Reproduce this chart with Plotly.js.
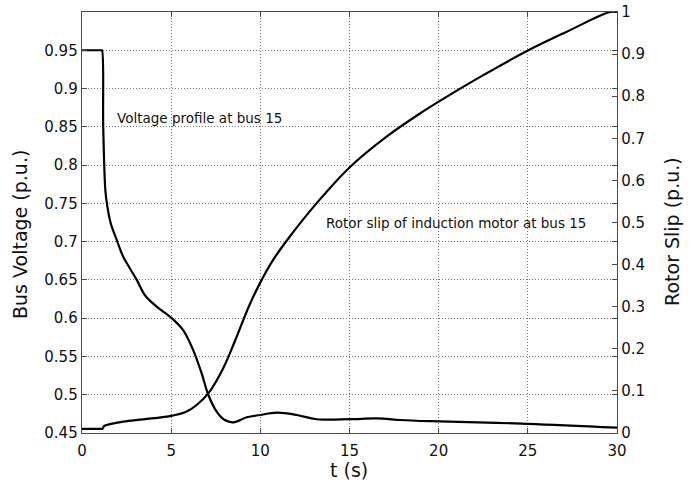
<!DOCTYPE html>
<html>
<head>
<meta charset="utf-8">
<script src="https://cdn.plot.ly/plotly-3.0.1.min.js"></script>
<style>html,body{margin:0;padding:0;background:#fff;}#chart{width:691px;height:492px;}</style>
</head>
<body>
<div id="chart"></div>
<script>
// Voltage profile at bus 15 (left axis)
const tVoltage = [0, 1.08, 1.12, 1.19, 1.31, 1.42, 1.61, 1.95, 2.32, 2.69, 3.07, 3.53, 4.19, 5.03, 5.68, 6.24, 6.71, 7.08, 7.55, 8.0, 8.48, 9.24, 9.98, 10.92, 12.04, 13.16, 15.03, 16.53, 17.83, 18.95, 20.07, 25.0, 30.0];
const voltage  = [0.95, 0.95, 0.95, 0.85, 0.767, 0.746, 0.724, 0.702, 0.680, 0.665, 0.650, 0.630, 0.615, 0.600, 0.584, 0.558, 0.528, 0.500, 0.478, 0.467, 0.464, 0.4705, 0.4735, 0.4765, 0.4735, 0.468, 0.468, 0.469, 0.467, 0.4657, 0.4652, 0.462, 0.457];

// Rotor slip of induction motor at bus 15 (right axis)
const tSlip = [0, 1.1, 1.15, 1.25, 1.57, 2.32, 3.44, 4.93, 5.87, 6.43, 7.08, 7.92, 8.6, 9.35, 9.98, 10.7, 11.57, 13.16, 15.03, 17.08, 18.95, 20.07, 22.5, 25.03, 27.18, 29.6, 30];
const slip  = [0.01, 0.01, 0.01, 0.017, 0.021, 0.027, 0.0325, 0.040, 0.051, 0.0665, 0.094, 0.154, 0.221, 0.300, 0.356, 0.410, 0.462, 0.546, 0.632, 0.704, 0.759, 0.789, 0.850, 0.909, 0.953, 1.0, 1.0];

// Tick labels
const xTicks = [0, 5, 10, 15, 20, 25, 30];
const vTicks = [0.45, 0.5, 0.55, 0.6, 0.65, 0.7, 0.75, 0.8, 0.85, 0.9, 0.95];
const vTickText = ["0.45", "0.5", "0.55", "0.6", "0.65", "0.7", "0.75", "0.8", "0.85", "0.9", "0.95"];
const sTicks = [0, 0.1, 0.2, 0.3, 0.4, 0.5, 0.6, 0.7, 0.8, 0.9, 1];
const sTickText = ["0", "0.1", "0.2", "0.3", "0.4", "0.5", "0.6", "0.7", "0.8", "0.9", "1"];

const FONT = "DejaVu Sans, Liberation Sans, Arial, sans-serif";
const AX = '#4a4a4a';

const traces = [
  {x: tVoltage, y: voltage, type: 'scatter', mode: 'lines', yaxis: 'y',
   line: {color: '#000', width: 2.2, shape: 'spline', smoothing: 1}, hoverinfo: 'skip', showlegend: false},
  {x: tSlip, y: slip, type: 'scatter', mode: 'lines', yaxis: 'y2',
   line: {color: '#000', width: 2.2, shape: 'spline', smoothing: 1}, hoverinfo: 'skip', showlegend: false}
];

const layout = {
  width: 691, height: 492,
  margin: {l: 82, r: 74, t: 12, b: 59, pad: 0},
  paper_bgcolor: '#fff', plot_bgcolor: '#fff',
  font: {family: FONT, size: 15, color: '#111'},
  showlegend: false,
  xaxis: {
    range: [0, 30], tickvals: xTicks, ticks: 'inside', ticklen: 5, tickcolor: AX,
    showline: true, linecolor: AX, linewidth: 1.3, mirror: 'ticks',
    showgrid: true, gridcolor: '#777', griddash: '1px,2px', gridwidth: 1,
    zeroline: false, ticklabelstandoff: 4, tickfont: {family: FONT, size: 15, color: '#111'}
  },
  yaxis: {
    range: [0.45, 1.0], tickvals: vTicks, ticktext: vTickText,
    ticks: 'inside', ticklen: 5, tickcolor: AX,
    showline: true, linecolor: AX, linewidth: 1.3, mirror: 'ticks',
    showgrid: true, gridcolor: '#777', griddash: '1px,2px', gridwidth: 1,
    zeroline: false, tickfont: {family: FONT, size: 15, color: '#111'}
  },
  yaxis2: {
    overlaying: 'y', side: 'right', range: [0, 1],
    tickvals: sTicks, ticktext: sTickText,
    ticks: 'inside', ticklen: 5, tickcolor: AX,
    showline: true, linecolor: AX, linewidth: 1.3,
    showgrid: false, zeroline: false, tickfont: {family: FONT, size: 15, color: '#111'}
  },
  annotations: [
    {text: 'Voltage profile at bus 15', x: 1.85, y: 0.861, xref: 'x', yref: 'y',
     xanchor: 'left', yanchor: 'middle', showarrow: false,
     font: {family: FONT, size: 13.5, color: '#111'}},
    {text: 'Rotor slip of induction motor at bus 15', x: 13.57, y: 0.724, xref: 'x', yref: 'y',
     xanchor: 'left', yanchor: 'middle', showarrow: false,
     font: {family: FONT, size: 13.5, color: '#111'}},
    {text: 'Bus Voltage (p.u.)', x: -0.1159, y: 0.4727, xref: 'paper', yref: 'paper',
     xanchor: 'center', yanchor: 'middle', textangle: -90, showarrow: false,
     font: {family: FONT, size: 19, color: '#111'}},
    {text: 'Rotor Slip (p.u.)', x: 1.1028, y: 0.48, xref: 'paper', yref: 'paper',
     xanchor: 'center', yanchor: 'middle', textangle: -90, showarrow: false,
     font: {family: FONT, size: 19, color: '#111'}},
    {text: 't (s)', x: 0.499, y: -0.0875, xref: 'paper', yref: 'paper',
     xanchor: 'center', yanchor: 'middle', showarrow: false,
     font: {family: FONT, size: 19, color: '#111'}}
  ]
};

Plotly.newPlot('chart', traces, layout, {displayModeBar: false, staticPlot: true});
</script>
</body>
</html>
